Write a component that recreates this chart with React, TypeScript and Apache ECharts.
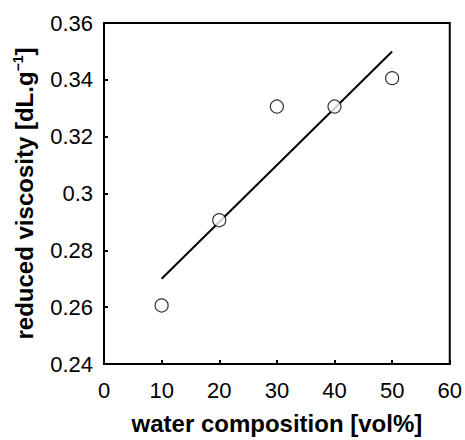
import React, { useEffect, useRef } from "react";
import * as echarts from "echarts";

const waterComposition = [10, 20, 30, 40, 50];
const reducedViscosity = [0.2606, 0.2906, 0.3306, 0.3306, 0.3406];
const trendLine: [number, number][] = [
  [10, 0.27],
  [50, 0.35],
];

export default function App() {
  const ref = useRef<HTMLDivElement>(null);
  useEffect(() => {
    if (!ref.current) return;
    const chart = echarts.init(ref.current, null, { renderer: "svg" });
    const font = "Arial, 'Liberation Sans', sans-serif";
    chart.setOption({
      animation: false,
      backgroundColor: "#fff",
      grid: {
        left: 104,
        top: 23,
        width: 348,
        height: 347,
        show: true,
        borderColor: "#000",
        borderWidth: 2,
      },
      xAxis: {
        type: "value",
        min: 0,
        max: 60,
        interval: 10,
        name: "water composition [vol%]",
        nameLocation: "middle",
        nameGap: 47,
        nameTextStyle: { fontFamily: font, fontSize: 24, fontWeight: "bold", color: "#000" },
        axisLine: { show: true, lineStyle: { color: "#000", width: 2 } },
        axisTick: { show: true, inside: true, length: 4, lineStyle: { color: "#000", width: 2 } },
        axisLabel: { fontFamily: font, fontSize: 22, color: "#000", margin: 15 },
        splitLine: { show: false },
      },
      yAxis: {
        type: "value",
        min: 0.24,
        max: 0.36,
        interval: 0.02,
        name: "reduced viscosity [dL.g{sup|−1}]",
        nameLocation: "middle",
        nameGap: 67,
        nameRotate: 90,
        nameTextStyle: {
          fontFamily: font,
          fontSize: 24,
          fontWeight: "bold",
          color: "#000",
          lineHeight: 26,
          rich: {
            sup: {
              fontFamily: font,
              fontSize: 14,
              fontWeight: "bold",
              color: "#000",
              verticalAlign: "top",
              lineHeight: 26,
            },
          },
        },
        axisLine: { show: true, lineStyle: { color: "#000", width: 2 } },
        axisTick: { show: true, inside: true, length: 4, lineStyle: { color: "#000", width: 2 } },
        axisLabel: { fontFamily: font, fontSize: 22, color: "#000", margin: 11 },
        splitLine: { show: false },
      },
      series: [
        {
          type: "line",
          data: trendLine,
          showSymbol: false,
          symbol: "none",
          lineStyle: { color: "#000", width: 2 },
          z: 2,
        },
        {
          type: "scatter",
          data: waterComposition.map((x, i) => [x, reducedViscosity[i]]),
          symbol: "circle",
          symbolSize: 13,
          itemStyle: { color: "#fff", borderColor: "#000", borderWidth: 1.2 },
          z: 3,
        },
      ],
    });
    return () => chart.dispose();
  }, []);
  return (
    <div
      ref={ref}
      style={{ position: "fixed", left: 0, top: 0, width: 465, height: 440 }}
    />
  );
}
